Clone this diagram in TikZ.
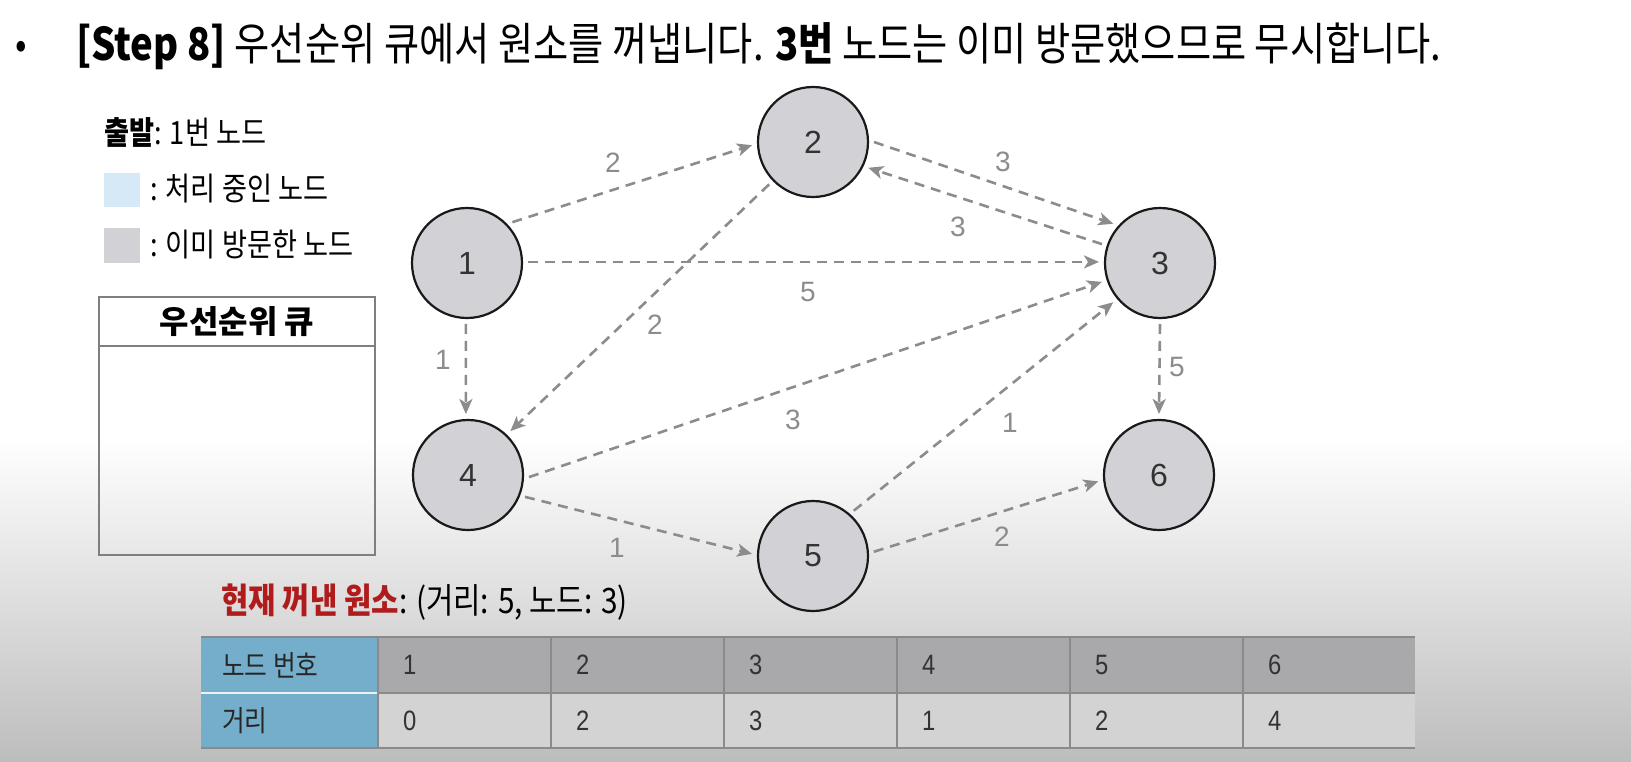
\documentclass[tikz,border=0pt]{standalone}
\usepackage{fontspec}
\setmainfont{Noto Sans CJK KR}[FakeStretch=0.85]
\newfontfamily\krwide{Noto Sans CJK KR}
\newfontfamily\latf{Liberation Sans}
\newfontfamily\latn{Liberation Sans}[FakeStretch=0.85]
\usetikzlibrary{arrows.meta}
\definecolor{edgec}{HTML}{8C8C8C}
\definecolor{nodefill}{HTML}{D2D2D6}
\definecolor{legblue}{HTML}{D5E9F7}
\definecolor{boxline}{HTML}{7F7F7F}
\definecolor{tblue}{HTML}{74AECB}
\definecolor{trow}{HTML}{A9A9AC}
\definecolor{trowb}{HTML}{D3D3D3}
\definecolor{tline}{HTML}{8A8A8A}
\definecolor{darkred}{HTML}{B01C1C}
\definecolor{bgbot}{HTML}{BDBDBD}
\newcommand\myfs[1]{\fontsize{#1}{#1}\selectfont}
\begin{document}
\begin{tikzpicture}[x=1pt,y=-1pt,
  gnode/.style={circle,draw=black!90,line width=2.2pt,fill=nodefill,minimum size=110pt,inner sep=0pt,outer sep=6pt,font=\latf\myfs{32},text=black!80},
  edge/.style={draw=edgec,line width=2.6pt,dash pattern=on 10pt off 7pt,-{Stealth[length=15pt,width=13pt,inset=4pt]}},
  elabel/.style={font=\latf\myfs{28},text=edgec,inner sep=0pt},
  txt/.style={anchor=west,inner sep=0pt},
  tcell/.style={anchor=west,inner sep=0pt,font=\latn\myfs{28},text=black!80},
  thead/.style={anchor=west,inner sep=0pt,font=\myfs{29},text=black!85}]
\useasboundingbox (0,0) rectangle (1631,762);
% background
\fill[white] (0,0) rectangle (1631,437);
\shade[top color=white,bottom color=bgbot] (0,437) rectangle (1631,762);

% title
\node[inner sep=0pt,font=\myfs{40}] (bullet) at (21,50) {•};
\node[txt,font=\myfs{45}] (title) at (76,46) {\textbf{[Step 8]} 우선순위 큐에서 원소를 꺼냅니다. \textbf{3번} 노드는 이미 방문했으므로 무시합니다.};

% legend
\node[txt,font=\myfs{32}] (start) at (104,132) {\textbf{출발}: 1번 노드};
\fill[legblue] (104,173) rectangle (140,207);
\node[txt,font=\myfs{32}] (legA) at (150,189) {: 처리 중인 노드};
\fill[nodefill] (104,228) rectangle (140,263);
\node[txt,font=\myfs{32}] (legB) at (150,245) {: 이미 방문한 노드};

% priority queue box
\draw[boxline,line width=2.5pt] (99,297) rectangle (375,555);
\draw[boxline,line width=2.5pt] (99,346) -- (375,346);
\node[inner sep=0pt,font=\krwide\bfseries\myfs{32}] (pq) at (237,322) {우선순위 큐};

% graph nodes
\node[gnode] (n1) at (467,263) {1};
\node[gnode] (n2) at (813,142) {2};
\node[gnode] (n3) at (1160,263) {3};
\node[gnode] (n4) at (468,475) {4};
\node[gnode] (n5) at (813,556) {5};
\node[gnode] (n6) at (1159,475) {6};

% edges
\draw[edge] (n1.42) -- (n2.183);
\draw[edge] (n2.0) -- (n3.140);
\draw[edge] (n3.162) -- (n2.-25);
\draw[edge] (n1.1) -- (n3.179);
\draw[edge] (n2.224) -- (n4.46);
\draw[edge] (n1.269) -- (n4.92);
\draw[edge] (n4.-2) -- (n3.198);
\draw[edge] (n5.48) -- (n3.220);
\draw[edge] (n3.270) -- (n6.90);
\draw[edge] (n4.-21) -- (n5.178);
\draw[edge] (n5.4) -- (n6.186);

% edge labels
\node[elabel] (l12) at (613,163) {2};
\node[elabel] (l23) at (1003,162) {3};
\node[elabel] (l32) at (958,227) {3};
\node[elabel] (l13) at (808,292) {5};
\node[elabel] (l24) at (655,325) {2};
\node[elabel] (l14) at (443,360) {1};
\node[elabel] (l43) at (793,420) {3};
\node[elabel] (l53) at (1010,423) {1};
\node[elabel] (l36) at (1177,367) {5};
\node[elabel] (l45) at (617,548) {1};
\node[elabel] (l56) at (1002,537) {2};

% current element
\node[txt,font=\myfs{35}] (cur) at (221,602) {\textcolor{darkred}{\textbf{현재 꺼낸 원소}}: (거리: 5, 노드: 3)};

% table
\fill[tblue] (201,637) rectangle (378,748);
\fill[trow] (378,637) rectangle (1415,693);
\fill[trowb] (378,693) rectangle (1415,748);
\draw[white!85!tblue,line width=1.5pt] (201,693) -- (378,693);
\draw[tline,line width=1.5pt] (378,693) -- (1415,693);
\foreach \x in {378,551,724,897,1070,1243}
  \draw[tline,line width=1.5pt] (\x,637) -- (\x,748);
\draw[tline,line width=2.5pt] (201,637) -- (1415,637);
\draw[tline,line width=2.5pt] (201,748) -- (1415,748);
\node[thead] (h1) at (222,665) {노드 번호};
\node[thead] (h2) at (222,721) {거리};
\node[tcell] (c11) at (403,665) {1};
\node[tcell] (c12) at (576,665) {2};
\node[tcell] (c13) at (749,665) {3};
\node[tcell] (c14) at (922,665) {4};
\node[tcell] (c15) at (1095,665) {5};
\node[tcell] (c16) at (1268,665) {6};
\node[tcell] (c21) at (403,721) {0};
\node[tcell] (c22) at (576,721) {2};
\node[tcell] (c23) at (749,721) {3};
\node[tcell] (c24) at (922,721) {1};
\node[tcell] (c25) at (1095,721) {2};
\node[tcell] (c26) at (1268,721) {4};
\end{tikzpicture}
\end{document}
